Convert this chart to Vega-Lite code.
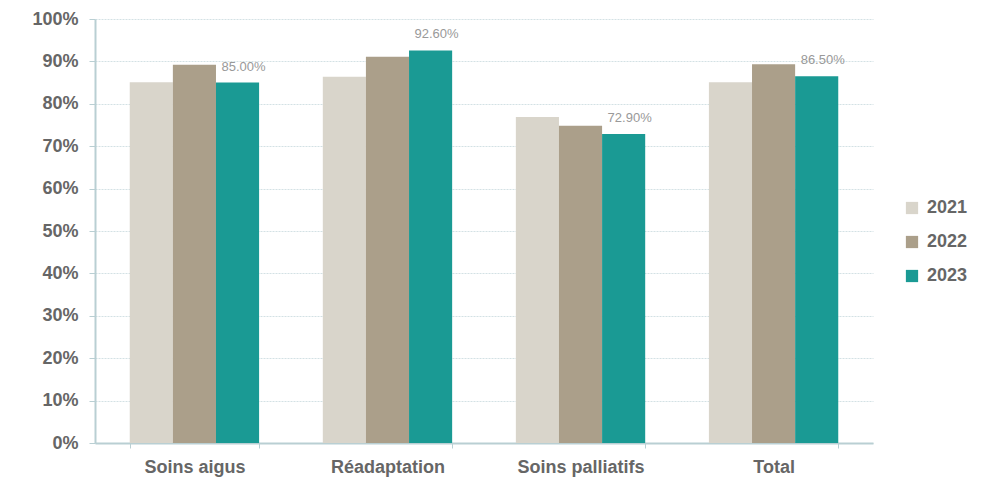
{
  "$schema": "https://vega.github.io/schema/vega-lite/v6.json",
  "width": 778,
  "height": 424,
  "autosize": {"type": "none"},
  "padding": {"left": 95, "top": 19, "right": 110, "bottom": 45},
  "background": "white",
  "config": {
    "font": "Liberation Sans",
    "view": {"stroke": null}
  },
  "data": {
    "values": [
      {"cat": "Soins aigus", "year": "2021", "value": 85.1},
      {"cat": "Soins aigus", "year": "2022", "value": 89.2},
      {"cat": "Soins aigus", "year": "2023", "value": 85.0, "label": "85.00%"},
      {"cat": "Réadaptation", "year": "2021", "value": 86.4},
      {"cat": "Réadaptation", "year": "2022", "value": 91.1},
      {"cat": "Réadaptation", "year": "2023", "value": 92.6, "label": "92.60%"},
      {"cat": "Soins palliatifs", "year": "2021", "value": 76.9},
      {"cat": "Soins palliatifs", "year": "2022", "value": 74.8},
      {"cat": "Soins palliatifs", "year": "2023", "value": 72.9, "label": "72.90%"},
      {"cat": "Total", "year": "2021", "value": 85.1},
      {"cat": "Total", "year": "2022", "value": 89.3},
      {"cat": "Total", "year": "2023", "value": 86.5, "label": "86.50%"}
    ]
  },
  "encoding": {
    "x": {
      "field": "cat", "type": "nominal", "sort": null, "title": null,
      "scale": {"paddingInner": 0.33, "paddingOuter": 0.18},
      "axis": {
        "labelAngle": 0, "labelFontSize": 18, "labelFontWeight": "bold", "labelColor": "#666666",
        "labelPadding": 10, "domainColor": "#b9cfd3", "domainWidth": 2, "tickColor": "#b9cfd3",
        "tickBand": "extent", "tickSize": 5, "grid": false
      }
    },
    "xOffset": {"field": "year", "type": "nominal", "scale": {"paddingInner": 0, "paddingOuter": 0}},
    "y": {
      "field": "value", "type": "quantitative", "title": null,
      "scale": {"domain": [0, 100], "nice": false},
      "axis": {
        "values": [0, 10, 20, 30, 40, 50, 60, 70, 80, 90, 100],
        "labelExpr": "datum.value + '%'",
        "labelFontSize": 18, "labelFontWeight": "bold", "labelColor": "#666666",
        "labelPadding": 11, "tickColor": "#b9cfd3", "tickSize": 6,
        "domainColor": "#b9cfd3", "domainWidth": 2,
        "gridColor": "#d3e1e4", "gridDash": [2, 1], "gridWidth": 1
      }
    }
  },
  "layer": [
    {
      "mark": {"type": "bar"},
      "encoding": {
        "color": {
          "field": "year", "type": "nominal", "title": null,
          "scale": {"domain": ["2021", "2022", "2023"], "range": ["#d9d5cb", "#ab9f8a", "#1a9a94"]},
          "legend": {
            "orient": "none", "legendX": 808, "legendY": 180,
            "symbolType": "square", "symbolSize": 150, "symbolStrokeWidth": 0,
            "labelFontSize": 18, "labelFontWeight": "bold", "labelColor": "#666666",
            "rowPadding": 16, "labelOffset": 6
          }
        }
      }
    },
    {
      "transform": [{"filter": "datum.label != null"}],
      "mark": {"type": "text", "dy": -16, "dx": 6, "fontSize": 13, "color": "#999999"},
      "encoding": {"text": {"field": "label"}}
    }
  ]
}
